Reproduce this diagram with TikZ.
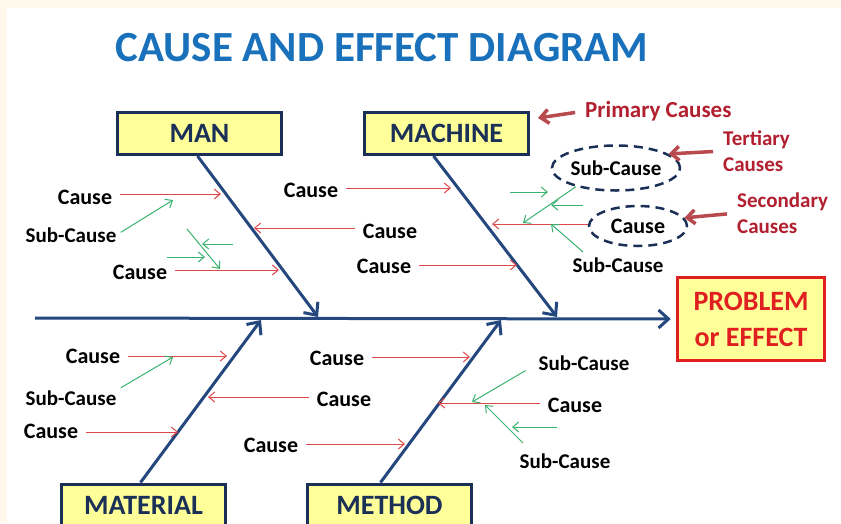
\documentclass[tikz,border=0pt]{standalone}
\usepackage{fontspec}
\setmainfont{Carlito}
\usetikzlibrary{arrows.meta,positioning,shapes.geometric}
\definecolor{fishcream}{RGB}{255,248,235}
\definecolor{fishtitle}{RGB}{24,113,186}
\definecolor{fishnavy}{RGB}{27,48,86}
\definecolor{fishbone}{RGB}{36,72,125}
\definecolor{fishyellow}{RGB}{255,255,153}
\definecolor{fishred}{RGB}{224,32,32}
\definecolor{fishpink}{RGB}{222,72,72}
\definecolor{fishgreen}{RGB}{58,178,112}
\definecolor{fishmaroon}{RGB}{178,32,48}
\definecolor{fishrust}{RGB}{184,74,78}

\begin{document}
\begin{tikzpicture}[x=1pt,y=-1pt,
  catbox/.style={draw=fishnavy,fill=fishyellow,line width=3pt,minimum width=164pt,minimum height=42pt,
    font=\bfseries\fontsize{28}{30}\selectfont,text=fishnavy},
  cause/.style={font=\bfseries\fontsize{22}{24}\selectfont,inner sep=0pt},
  subcause/.style={font=\bfseries\fontsize{21}{23}\selectfont,inner sep=0pt},
  note/.style={font=\bfseries\fontsize{21}{26}\selectfont,text=fishmaroon,inner sep=0pt,align=left},
  bone/.style={draw=fishbone,line width=3pt,-{Straight Barb[length=10pt,width=18pt]}},
  redarr/.style={draw=fishpink,line width=1pt,-{Straight Barb[length=6pt,width=10pt]}},
  greenarr/.style={draw=fishgreen,line width=1pt,-{Straight Barb[length=6pt,width=10pt]}},
  notearr/.style={draw=fishrust,line width=3.5pt,-{Straight Barb[length=8pt,width=14pt]}},
  ring/.style={ellipse,draw=fishnavy,line width=2.5pt,dash pattern=on 9pt off 6pt},
  gap/.style={shorten <=8pt}]
  \useasboundingbox (0,0) rectangle (841,523);
  \fill[fishcream] (0,0) rectangle (841,523);
  \fill[white] (7,8) rectangle (841,523);

  \node[font=\bfseries\fontsize{43}{47}\selectfont,text=fishtitle,inner sep=0pt] (title) at (382,48) {CAUSE AND EFFECT DIAGRAM};

  % categories and effect
  \node[catbox] (man) at (199.5,133.5) {MAN};
  \node[catbox] (machine) at (446.5,133.5) {MACHINE};
  \node[catbox] (material) at (143.5,505) {MATERIAL};
  \node[catbox] (method) at (389.5,505) {METHOD};
  \node[draw=fishred,fill=fishyellow,line width=3.5pt,minimum width=147pt,minimum height=83pt,align=center,
    font=\bfseries\fontsize{28}{36}\selectfont,text=fishred] (problem) at (751,319) {PROBLEM\\or EFFECT};

  % bones
  \coordinate (tail) at (35,318);
  \coordinate (manhead) at (318,317);
  \coordinate (machhead) at (557,317);
  \coordinate (mathead) at (261,320);
  \coordinate (methhead) at (501,320);
  \draw[bone] (tail) -- ([xshift=-5pt]problem.west);
  \draw[bone] ([xshift=-2pt]man.south) -- (manhead);
  \draw[bone] ([xshift=-13pt]machine.south) -- (machhead);
  \draw[bone] ([xshift=-3pt]material.north) -- (mathead);
  \draw[bone] ([xshift=-9pt]method.north) -- (methhead);

  % cause labels
  \node[cause] (manc1) at (85,197) {Cause};
  \node[cause] (manc2) at (140,272) {Cause};
  \node[cause] (manc3) at (390,231) {Cause};
  \node[cause] (machc1) at (311,190) {Cause};
  \node[cause] (machc2) at (384,266) {Cause};
  \node[cause] (matc1) at (93,356) {Cause};
  \node[cause] (matc2) at (344,399) {Cause};
  \node[cause] (matc3) at (51,431) {Cause};
  \node[cause] (methc1) at (271,445) {Cause};
  \node[cause] (methc2) at (337,358) {Cause};
  \node[cause] (methc3) at (575,405) {Cause};
  \node[subcause] (mans1) at (71,235) {Sub-Cause};
  \node[subcause] (machs1) at (618,265) {Sub-Cause};
  \node[subcause] (mats1) at (71,398) {Sub-Cause};
  \node[subcause] (meths1) at (584,363) {Sub-Cause};
  \node[subcause] (meths2) at (565,461) {Sub-Cause};
  \node[ring,subcause,minimum width=116pt,minimum height=45pt] (sc) at (616,168) {Sub-Cause};
  \node[ring,cause,minimum width=98pt,minimum height=40pt] (cc) at (638,226) {Cause};

  % red cause arrows
  \coordinate (t1) at (221,194);
  \coordinate (t2) at (279,270);
  \coordinate (t3) at (254,228);
  \coordinate (t4) at (451,188);
  \coordinate (t5) at (517,265);
  \coordinate (t6) at (492,224);
  \coordinate (t7) at (227,356);
  \coordinate (t8) at (208,397);
  \coordinate (t9) at (178,432);
  \coordinate (t10) at (405,444);
  \coordinate (t11) at (470,357);
  \coordinate (t12) at (438,403);
  \draw[redarr,gap] (manc1.east |- t1) -- (t1);
  \draw[redarr,gap] (manc2.east |- t2) -- (t2);
  \draw[redarr,gap] (manc3.west |- t3) -- (t3);
  \draw[redarr,gap] (machc1.east |- t4) -- (t4);
  \draw[redarr,gap] (machc2.east |- t5) -- (t5);
  \draw[redarr] (cc.west |- t6) -- (t6);
  \draw[redarr,gap] (matc1.east |- t7) -- (t7);
  \draw[redarr,gap] (matc2.west |- t8) -- (t8);
  \draw[redarr,gap] (matc3.east |- t9) -- (t9);
  \draw[redarr,gap] (methc1.east |- t10) -- (t10);
  \draw[redarr,gap] (methc2.east |- t11) -- (t11);
  \draw[redarr,gap] (methc3.west |- t12) -- (t12);

  % green sub-cause arrows
  \draw[greenarr,shorten <=5pt] (mans1.east) -- (173,200);
  \draw[greenarr] (187,229) -- (220,269);
  \draw[greenarr] (233,244) -- (202,244);
  \draw[greenarr] (167,257) -- (205,257);
  \draw[greenarr] (sc.205) -- (523,223);
  \draw[greenarr] (510,192) -- (548,192);
  \draw[greenarr] (583,205) -- (551,205);
  \draw[greenarr] (583,252) -- (551,224);
  \draw[greenarr,shorten <=5pt] (mats1.north east) -- (173,357);
  \draw[greenarr,shorten <=15pt] (meths1.west) -- (472,402);
  \draw[greenarr] (523,443) -- (485,405);
  \draw[greenarr] (557,427) -- (512,427);

  % notes
  \node[note,font=\bfseries\fontsize{23}{26}\selectfont,anchor=west] (primary) at (585,111) {Primary Causes};
  \node[note,anchor=west] (tertiary) at (723,151) {Tertiary\\Causes};
  \node[note,anchor=west] (secondary) at (737,213) {Secondary\\Causes};
  \draw[notearr,shorten <=10pt] (primary.west) -- (538,118);
  \draw[notearr,shorten <=10pt] (tertiary.west) -- (sc.15);
  \draw[notearr,shorten <=10pt] (secondary.west) -- (cc.10);
\end{tikzpicture}
\end{document}
